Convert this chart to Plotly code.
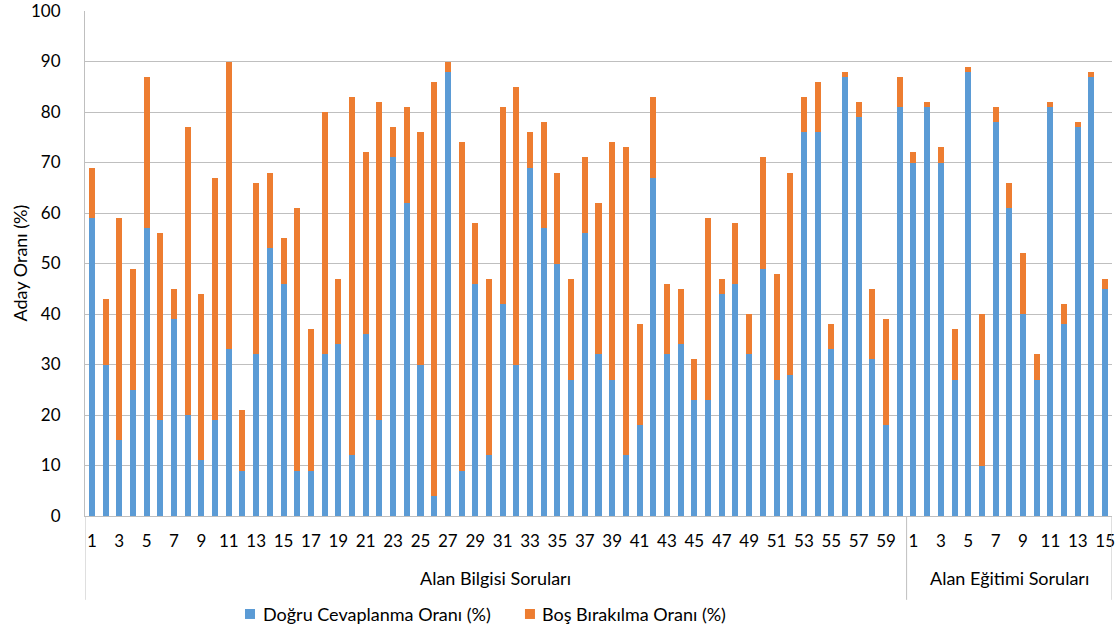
import plotly.graph_objects as go

group_names = ["Alan Bilgisi Soruları", "Alan Eğitimi Soruları"]
series_names = ["Doğru Cevaplanma Oranı (%)", "Boş Bırakılma Oranı (%)"]

bilgisi_correct = [59, 30, 15, 25, 57, 19, 39, 20, 11, 19, 33, 9, 32, 53, 46, 9, 9, 32, 34, 12,
                   36, 19, 71, 62, 30, 4, 88, 9, 46, 12, 42, 30, 69, 57, 50, 27, 56, 32, 27, 12,
                   18, 67, 32, 34, 23, 23, 44, 46, 32, 49, 27, 28, 76, 76, 33, 87, 79, 31, 18, 81]
bilgisi_total = [69, 43, 59, 49, 87, 56, 45, 77, 44, 67, 90, 21, 66, 68, 55, 61, 37, 80, 47, 83,
                 72, 82, 77, 81, 76, 86, 90, 74, 58, 47, 81, 85, 76, 78, 68, 47, 71, 62, 74, 73,
                 38, 83, 46, 45, 31, 59, 47, 58, 40, 71, 48, 68, 83, 86, 38, 88, 82, 45, 39, 87]
egitimi_correct = [70, 81, 70, 27, 88, 10, 78, 61, 40, 27, 81, 38, 77, 87, 45]
egitimi_total = [72, 82, 73, 37, 89, 40, 81, 66, 52, 32, 82, 42, 78, 88, 47]

bilgisi_blank = [t - c for t, c in zip(bilgisi_total, bilgisi_correct)]
egitimi_blank = [t - c for t, c in zip(egitimi_total, egitimi_correct)]

cats = [f"B{i+1}" for i in range(len(bilgisi_correct))] + [f"E{i+1}" for i in range(len(egitimi_correct))]
labels = [str(i + 1) for i in range(len(bilgisi_correct))] + [str(i + 1) for i in range(len(egitimi_correct))]
correct = bilgisi_correct + egitimi_correct
blank = bilgisi_blank + egitimi_blank

tickvals = [c for c, l in zip(cats, labels) if int(l) % 2 == 1]
ticktext = [l for l in labels if int(l) % 2 == 1]

FONT = "Lato, 'Open Sans', sans-serif"
BLUE = "#5B9BD5"
ORANGE = "#ED7D31"
colors = [BLUE, ORANGE]

fig = go.Figure()
fig.add_trace(go.Bar(x=cats, y=correct, name=series_names[0], marker_color=BLUE,
                     marker_line_width=0, showlegend=False))
fig.add_trace(go.Bar(x=cats, y=blank, name=series_names[1], marker_color=ORANGE,
                     marker_line_width=0, showlegend=False))

n1 = len(bilgisi_correct)
n = len(cats)
line_col = "#BFBFBF"
for xpos in [-0.5, n1 - 0.5, n - 0.5]:
    fig.add_shape(type="line", xref="x", yref="paper", x0=xpos, x1=xpos, y0=0, y1=-0.166,
                  line=dict(color=line_col, width=1))

fig.add_annotation(x=(n1 - 1) / 2, y=-0.123, xref="x", yref="paper", text=group_names[0],
                   showarrow=False, font=dict(size=18, color="#000000", family=FONT), yanchor="middle")
fig.add_annotation(x=n1 + (n - n1 - 1) / 2, y=-0.123, xref="x", yref="paper", text=group_names[1],
                   showarrow=False, font=dict(size=18, color="#000000", family=FONT), yanchor="middle")
fig.add_annotation(x=0, xshift=-66, y=0.5, xref="paper", yref="paper", text="Aday Oranı (%)",
                   textangle=-90, showarrow=False, font=dict(size=18, color="#000000", family=FONT),
                   xanchor="center", yanchor="middle")

# legend (drawn manually so it sits in the bottom margin without shrinking the plot)
legend_sq_x = [0.1558, 0.4284]
legend_tx_x = [0.1713, 0.4430]
legend_y = -0.194
for name, col, sx, tx in zip(series_names, colors, legend_sq_x, legend_tx_x):
    fig.add_shape(type="rect", xref="paper", yref="paper", xsizemode="pixel", ysizemode="pixel",
                  xanchor=sx, yanchor=legend_y, x0=0, x1=10, y0=-5, y1=5,
                  fillcolor=col, line_width=0)
    fig.add_annotation(x=tx, y=legend_y, xref="paper", yref="paper", text=name, showarrow=False,
                       xanchor="left", yanchor="middle",
                       font=dict(size=18, color="#000000", family=FONT))

fig.update_layout(
    barmode="stack",
    bargap=0.56,
    width=1116, height=631,
    margin=dict(l=85, r=4, t=11, b=115),
    plot_bgcolor="white", paper_bgcolor="white",
    font=dict(family=FONT, size=16, color="#000000"),
    showlegend=False,
    xaxis=dict(type="category", categoryorder="array", categoryarray=cats,
               tickmode="array", tickvals=tickvals, ticktext=ticktext, automargin=False,
               range=[-0.5, n - 0.5], showgrid=False, showline=True, linecolor=line_col,
               ticks="", tickangle=0, ticklabelstandoff=10, ticklabeloverflow="allow",
               tickfont=dict(size=17, family=FONT)),
    yaxis=dict(range=[0, 100], dtick=10, showgrid=True, gridcolor=line_col, gridwidth=1,
               showline=True, linecolor=line_col, zeroline=False, ticks="", automargin=False,
               ticklabelstandoff=20, ticklabeloverflow="allow", tickfont=dict(size=17, family=FONT)),
)

fig.write_html("out.html", post_script="document.body.style.margin='0';",
               config={"displayModeBar": False})
